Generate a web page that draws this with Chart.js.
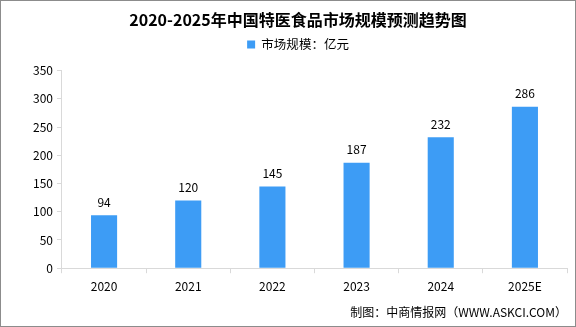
<!DOCTYPE html>
<html>
<head>
<meta charset="utf-8">
<script src="https://cdn.jsdelivr.net/npm/chart.js@4/dist/chart.umd.min.js"></script>
<style>
  html, body { margin: 0; padding: 0; background: #fff; }
  #wrap { width: 576px; height: 327px; box-sizing: border-box; border: 1px solid #8c8c8c; position: relative; }
  canvas { display: block; }
</style>
</head>
<body>
<div id="wrap"><canvas id="chart" width="574" height="325"></canvas></div>
<script>
const years = ['2020', '2021', '2022', '2023', '2024', '2025E'];
const marketSize = [94, 120, 145, 187, 232, 286];
const yTicks = [0, 50, 100, 150, 200, 250, 300, 350];

const font = '"Noto Sans CJK SC", "Liberation Serif", serif';

// draw the value on top of each bar
const valueLabels = {
    id: 'valueLabels',
    afterDatasetsDraw(chart) {
        const ctx = chart.ctx;
        const meta = chart.getDatasetMeta(0);
        ctx.save();
        ctx.font = '12px ' + font;
        ctx.fillStyle = '#000';
        ctx.textAlign = 'center';
        ctx.textBaseline = 'bottom';
        meta.data.forEach((bar, i) => {
            ctx.fillText(marketSize[i], bar.x, bar.y - 7);
        });
        ctx.restore();
    }
};

// empty box between legend and plot to leave some room
const spacer = {
    id: 'spacer',
    beforeInit(chart) {
        Chart.layouts.addBox(chart, {
            position: 'top',
            weight: 500,
            fullSize: true,
            options: {},
            isHorizontal() { return true; },
            update(maxWidth) { this.width = maxWidth; this.height = 10; },
            draw() {}
        });
    }
};

new Chart(document.getElementById('chart'), {
    type: 'bar',
    data: {
        labels: years,
        datasets: [{
            label: '市场规模：亿元',
            data: marketSize,
            backgroundColor: '#3d9cf5',
            barPercentage: 0.31,
            categoryPercentage: 1
        }]
    },
    options: {
        responsive: false,
        animation: false,
        layout: { padding: { left: 28, right: 8, top: 0, bottom: 0 } },
        plugins: {
            title: {
                display: true,
                text: '2020-2025年中国特医食品市场规模预测趋势图',
                color: '#000',
                font: { family: font, size: 16, weight: 'bold' },
                padding: { top: 9, bottom: 1 }
            },
            legend: {
                display: true,
                labels: {
                    color: '#000',
                    font: { family: font, size: 12.5 },
                    boxWidth: 8,
                    boxHeight: 8,
                    padding: 8
                }
            },
            subtitle: {
                display: true,
                position: 'bottom',
                align: 'end',
                text: '制图：中商情报网（WWW.ASKCI.COM）',
                color: '#000',
                font: { family: font, size: 12 },
                padding: { top: 6, bottom: 6 }
            },
            tooltip: { enabled: false }
        },
        scales: {
            x: {
                grid: { display: true, drawOnChartArea: false, color: '#d9d9d9', tickLength: 5 },
                border: { color: '#d9d9d9' },
                ticks: { color: '#000', font: { family: font, size: 12 }, padding: 6 }
            },
            y: {
                min: 0,
                max: 350,
                afterBuildTicks(axis) { axis.ticks = yTicks.map(v => ({ value: v })); },
                grid: { display: true, drawOnChartArea: false, color: '#d9d9d9', tickLength: 5 },
                border: { color: '#d9d9d9' },
                ticks: { color: '#000', font: { family: font, size: 12 }, padding: 4 }
            }
        }
    },
    plugins: [valueLabels, spacer]
});
</script>
</body>
</html>
